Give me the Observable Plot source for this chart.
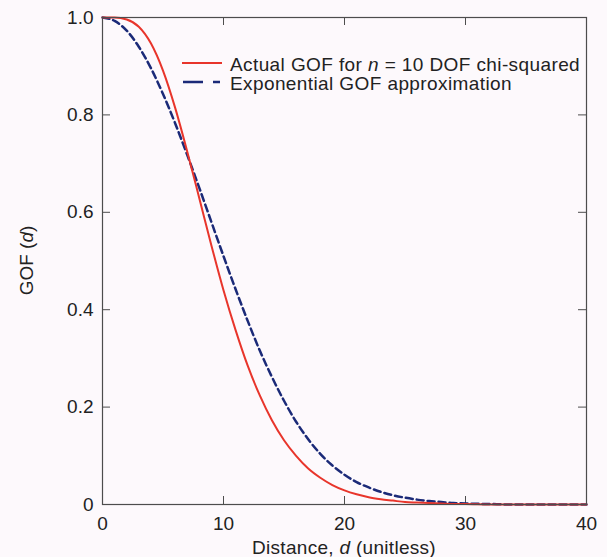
<!DOCTYPE html>
<html><head><meta charset="utf-8">
<script src="https://cdn.jsdelivr.net/npm/d3@7"></script>
<script src="https://cdn.jsdelivr.net/npm/@observablehq/plot@0.6"></script>
<style>
html,body{margin:0;padding:0;background:#fdf9fc;}
#chart svg{display:block;}
</style></head><body><div id="chart"></div>
<script>
// Distance values (unitless)
const distance = [0,1,2,3,4,5,6,7,8,9,10,11,12,13,14,15,16,17,18,19,20,21,22,23,24,25,26,27,28,29,30,32,34,36,38,40];
// Actual GOF for n = 10 DOF chi-squared
const actualGOF = [1.000,1.000,0.996,0.981,0.947,0.891,0.815,0.725,0.629,0.532,0.440,0.358,0.285,0.224,0.173,0.132,0.100,0.074,0.055,0.040,0.029,0.021,0.015,0.011,0.008,0.005,0.004,0.003,0.002,0.001,0.001,0,0,0,0,0];
// Exponential GOF approximation
const expGOF = [1.000,0.993,0.973,0.940,0.896,0.843,0.783,0.718,0.650,0.580,0.510,0.442,0.377,0.316,0.262,0.213,0.170,0.134,0.104,0.080,0.061,0.046,0.035,0.026,0.019,0.014,0.010,0.007,0.005,0.003,0.002,0.001,0,0,0,0];
const seriesNames = ["Actual GOF for n = 10 DOF chi-squared", "Exponential GOF approximation"];
const xTicks = [0,10,20,30,40];
const yTicks = [0,0.2,0.4,0.6,0.8,1.0];
const yTickLabels = ["0","0.2","0.4","0.6","0.8","1.0"];

const actualData = distance.map((d,i)=>({d, gof: actualGOF[i]}));
const expData = distance.map((d,i)=>({d, gof: expGOF[i]}));

const W=607, H=557, mL=102, mR=21, mT=17, mB=53;
const innerW = W-mL-mR, innerH = H-mT-mB, tickLen = 8;
const frameColor = "#4d4d4d", red = "#e8352b", navy = "#1b2a78";
const font = "'Liberation Sans', Arial, Helvetica, sans-serif";

const plot = Plot.plot({
  width: W, height: H, marginLeft: mL, marginRight: mR, marginTop: mT, marginBottom: mB,
  style: {background: "transparent", fontFamily: font, fontSize: "19px", color: "#222"},
  x: {domain: [0,40]},
  y: {domain: [0,1]},
  marks: [
    Plot.axisX({ticks: xTicks, tickSize: 0, tickPadding: 12, label: null, fontSize: 19}),
    Plot.axisY({ticks: yTicks, tickSize: 0, tickPadding: 9, label: null, fontSize: 19,
      tickFormat: d => yTickLabels[yTicks.indexOf(d)]}),
    Plot.ruleX(xTicks.slice(1,-1), {x: d=>d, stroke: frameColor, insetTop: innerH - tickLen}),
    Plot.ruleX(xTicks.slice(1,-1), {x: d=>d, stroke: frameColor, insetBottom: innerH - tickLen}),
    Plot.ruleY(yTicks.slice(1,-1), {y: d=>d, stroke: frameColor, insetRight: innerW - tickLen}),
    Plot.ruleY(yTicks.slice(1,-1), {y: d=>d, stroke: frameColor, insetLeft: innerW - tickLen}),
    Plot.line(expData, {x: "d", y: "gof", stroke: navy, strokeWidth: 2.5, strokeDasharray: "7,4", curve: "monotone-x"}),
    Plot.line(actualData, {x: "d", y: "gof", stroke: red, strokeWidth: 2, curve: "monotone-x"}),
    Plot.frame({stroke: frameColor, strokeWidth: 1.2})
  ]
});
document.getElementById("chart").appendChild(plot);

const svg = d3.select(plot);
const xr = plot.scale("x").range, yr = plot.scale("y").range;
const cx = (xr[0]+xr[1])/2, cy = (yr[0]+yr[1])/2;

// X title
const xt = svg.append("text").attr("x", cx).attr("y", H-3).attr("text-anchor","middle")
  .attr("font-family", font).attr("font-size", 19).attr("fill","#222").attr("letter-spacing", 0.3);
xt.append("tspan").text("Distance, ");
xt.append("tspan").attr("font-style","italic").text("d");
xt.append("tspan").text(" (unitless)");

// Y title
const yt = svg.append("text").attr("transform", `translate(33,${cy}) rotate(-90)`).attr("text-anchor","middle")
  .attr("font-family", font).attr("font-size", 19).attr("fill","#222");
yt.append("tspan").text("GOF (");
yt.append("tspan").attr("font-style","italic").text("d");
yt.append("tspan").text(")");

// Legend
const lg = svg.append("g").attr("font-family", font).attr("font-size", 19).attr("fill","#222")
  .attr("text-anchor","start").attr("letter-spacing", 0.4);
lg.append("line").attr("x1",182).attr("x2",222).attr("y1",63).attr("y2",63).attr("stroke",red).attr("stroke-width",2);
lg.append("line").attr("x1",183).attr("x2",220).attr("y1",82).attr("y2",82).attr("stroke",navy).attr("stroke-width",2.5).attr("stroke-dasharray","20,10");
const t1 = lg.append("text").attr("x",230).attr("y",70.5).attr("text-anchor","start");
t1.append("tspan").text("Actual GOF for ");
t1.append("tspan").attr("font-style","italic").text("n");
t1.append("tspan").text(" = 10 DOF chi-squared");
lg.append("text").attr("x",230).attr("y",89.5).attr("text-anchor","start").text(seriesNames[1]);
</script></body></html>
